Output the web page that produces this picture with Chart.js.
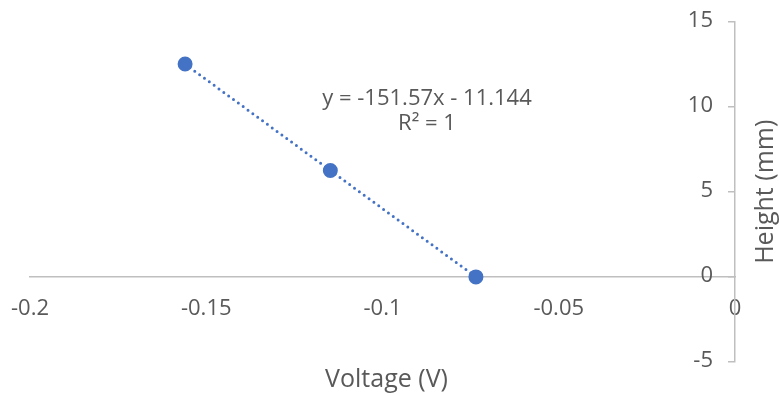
<!DOCTYPE html>
<html>
<head>
<meta charset="utf-8">
<script src="https://cdn.jsdelivr.net/npm/chart.js@4/dist/chart.umd.min.js"></script>
<style>
  body { margin: 0; background: #fff; }
  canvas { display: block; }
</style>
</head>
<body>
<canvas id="chart" width="779" height="396"></canvas>
<script>
// data
const voltage = [-0.156, -0.1148, -0.0735];
const height = [12.5, 6.25, 0];
const xTickLabels = ["-0.2", "-0.15", "-0.1", "-0.05", "0"];
const yTickLabels = ["-5", "0", "5", "10", "15"];
const equationLines = ["y = -151.57x - 11.144", "R\u00b2 = 1"];

const textColor = "#595959";
const axisColor = "#bfbfbf";
const blue = "#4472C4";
const fontFamily = "'Open Sans', sans-serif";

// no extra room for the centred axes, chart area comes from layout padding only
const noFit = (scale) => {
  if (scale.isHorizontal()) scale.height = 0;
  else scale.width = 0;
  scale.paddingLeft = scale.paddingRight = scale.paddingTop = scale.paddingBottom = 0;
};

// y tick labels (chart.js ignores padding for y axes placed at a value),
// axis titles and the trendline label
const labelsPlugin = {
  id: "labels",
  afterDraw(chart) {
    const ctx = chart.ctx;
    const area = chart.chartArea;
    const xs = chart.scales.x;
    const ys = chart.scales.y;
    ctx.save();
    ctx.fillStyle = textColor;

    ctx.font = "22px " + fontFamily;
    ctx.textAlign = "right";
    ctx.textBaseline = "middle";
    const axisX = xs.getPixelForValue(0);
    ys.ticks.forEach((t, i) => {
      ctx.fillText(yTickLabels[i], axisX - 22, ys.getPixelForValue(t.value) - 1);
    });

    ctx.textAlign = "center";
    ctx.fillText(equationLines[0], 427, 99);
    ctx.fillText(equationLines[1], 427, 124);

    ctx.font = "25px " + fontFamily;
    ctx.fillText("Voltage (V)", (area.left + area.right) / 2 + 4, 380);

    ctx.translate(766, (area.top + area.bottom) / 2);
    ctx.rotate(-Math.PI / 2);
    ctx.fillText("Height (mm)", 0, 0);
    ctx.restore();
  }
};

new Chart(document.getElementById("chart").getContext("2d"), {
  type: "scatter",
  data: {
    datasets: [
      {
        data: voltage.map((v, i) => ({ x: v, y: height[i] })),
        showLine: true,
        borderColor: blue,
        borderWidth: 3,
        borderDash: [0, 6],
        borderCapStyle: "round",
        backgroundColor: blue,
        pointBackgroundColor: blue,
        pointBorderColor: blue,
        pointRadius: 6,
      },
    ],
  },
  options: {
    responsive: false,
    animation: false,
    layout: { padding: { left: 30, right: 44, top: 21.5, bottom: 34 } },
    plugins: {
      legend: { display: false },
      tooltip: { enabled: false },
    },
    scales: {
      x: {
        type: "linear",
        position: { y: 0 },
        min: -0.2,
        max: 0,
        afterFit: noFit,
        ticks: {
          stepSize: 0.05,
          padding: 19,
          color: textColor,
          font: { family: fontFamily, size: 22 },
          maxRotation: 0,
          callback: (v, i) => xTickLabels[i],
        },
        grid: { display: false, drawTicks: false },
        border: { display: true, color: axisColor, width: 1.5 },
      },
      y: {
        type: "linear",
        position: { x: 0 },
        min: -5,
        max: 15,
        afterFit: noFit,
        ticks: {
          stepSize: 5,
          display: false,
        },
        grid: {
          drawOnChartArea: false,
          drawTicks: true,
          tickLength: 6,
          color: axisColor,
          lineWidth: 1.5,
        },
        border: { display: true, color: axisColor, width: 1.5 },
      },
    },
  },
  plugins: [labelsPlugin],
});
</script>
</body>
</html>
